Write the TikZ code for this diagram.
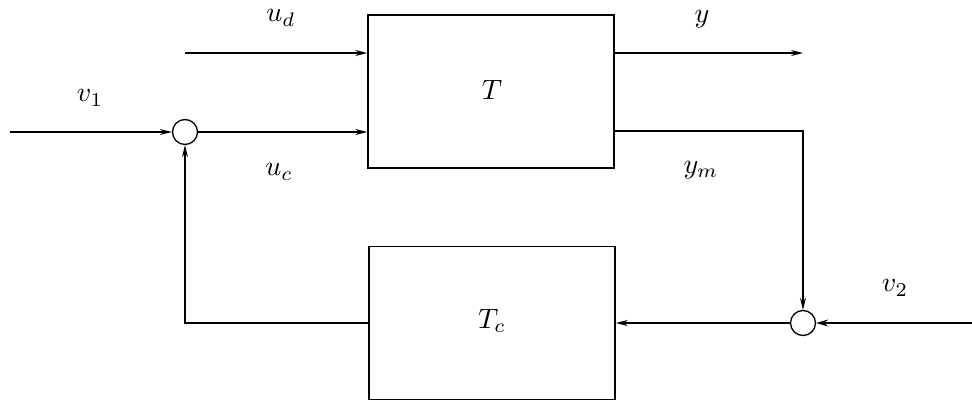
\documentclass[tikz,border=0pt]{standalone}
\usetikzlibrary{arrows.meta}
\begin{document}
\begin{tikzpicture}[x=1pt,y=-1pt,line width=1.5pt,
  blk/.style={draw,rectangle,minimum width=246pt,minimum height=153pt,inner sep=0pt},
  sumc/.style={draw,circle,minimum size=25pt,inner sep=0pt,line width=1.3pt},
  lbl/.style={scale=2.8,transform shape,inner sep=0pt},
  arr/.style={-{Stealth[length=12pt,width=6pt]}},
  thickarr/.style={-{Stealth[length=12pt,width=7pt]}}]
\useasboundingbox (0,0) rectangle (972,401);
\node[blk] (T) at (491,91.5) {};
\node[blk] (Tc) at (492,323) {};
\node[lbl] (Tl) at (492,90) {$T$};
\node[lbl] (Tcl) at (492,321) {$T_c$};
\node[sumc] (s1) at (185,132) {};
\node[sumc] (s2) at (803,323) {};
\coordinate (vin) at (10,132);
\coordinate (udin) at (185,53);
\coordinate (yout) at (803,53);
\coordinate (v2in) at (972,323);
\coordinate (ymc) at (803,131);
\coordinate (fbc) at (185,323);
\draw[arr] (vin) -- (s1.west);
\draw[arr] (s1.east) -- (s1.east -| T.west);
\draw[arr] (udin) -- (udin -| T.west);
\draw[arr] (yout -| T.east) -- (yout);
\draw[arr] (ymc -| T.east) -- (ymc) -- (s2.north);
\draw[thickarr] (v2in) -- (s2.east);
\draw[arr] (s2.west) -- (s2.west -| Tc.east);
\draw[arr] (Tc.west) -- (fbc) -- (s1.south);
\node[lbl] (lv1) at (90,98) {$v_1$};
\node[lbl] (lud) at (281,18) {$u_d$};
\node[lbl] (ly) at (702,19) {$y$};
\node[lbl] (luc) at (279,172) {$u_c$};
\node[lbl] (lym) at (701,170) {$y_m$};
\node[lbl] (lv2) at (895,288) {$v_2$};
\end{tikzpicture}
\end{document}
